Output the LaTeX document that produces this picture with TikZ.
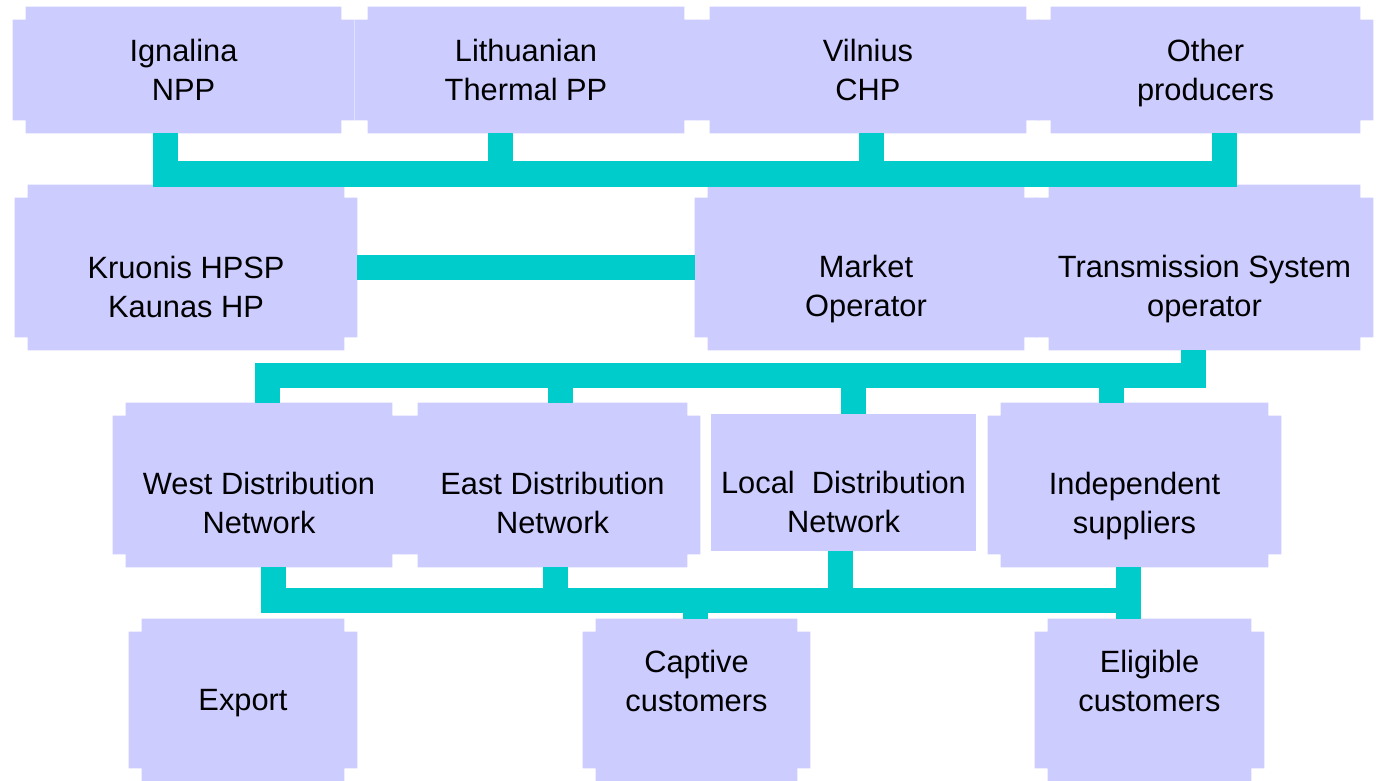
\documentclass[tikz,border=0pt]{standalone}
\usepackage{fontspec}
\setmainfont{Liberation Sans}
\usepackage{tikz}
\usetikzlibrary{backgrounds}

\definecolor{boxblue}{HTML}{CCCCFF}
\definecolor{busteal}{HTML}{00CCCC}
\newcommand{\boxfont}{\fontsize{15.4pt}{19.5pt}\selectfont}

\begin{document}
\begin{tikzpicture}[x=0.5pt, y=-0.5pt,
  box/.style 2 args={minimum width=#1, minimum height=#2, inner sep=0pt},
  txt/.style={font=\boxfont, align=center, inner sep=0pt},
  bus/.style={draw=busteal, line width=12.5pt}]
\useasboundingbox (0,0) rectangle (1376,781);

% Producers
\node[box={170.5pt}{63pt}, label={[txt]center:{Ignalina\\NPP}}] (ign) at (183.5,70) {};
\node[box={171pt}{63pt}, label={[txt]center:{Lithuanian\\Thermal PP}}] (lit) at (526,70) {};
\node[box={171pt}{63pt}, label={[txt]center:{Vilnius\\CHP}}] (vil) at (868,70) {};
\node[box={167.5pt}{63pt}, label={[txt,yshift=-1.5pt]center:{Other\\producers}}] (oth) at (1205.5,70) {};

% Hydro, market and transmission
\node[box={171pt}{82.5pt}, label={[txt,yshift=-9.5pt]center:{Kruonis HPSP\\Kaunas HP}}] (kru) at (186,267.5) {};
\node[box={171pt}{82.5pt}, label={[txt,yshift=-11pt]center:{Market\\Operator}}] (mo) at (866,267.5) {};
\node[box={168.5pt}{82.5pt}, label={[txt,yshift=-11pt]center:{Transmission System\\operator}}] (tso) at (1204.5,267.5) {};

% Distribution and supply
\node[box={146pt}{82pt}, label={[txt,yshift=-9pt]center:{West Distribution\\Network}}] (wdn) at (259,485) {};
\node[box={147.5pt}{82pt}, label={[txt,yshift=-9pt]center:{East Distribution\\Network}}] (edn) at (552.5,485) {};
\node[box={132.5pt}{68.5pt}, fill=boxblue, label={[txt,yshift=-9.5pt]center:{Local\ \ Distribution\\Network}}] (ldn) at (843.5,482.5) {};
\node[box={146.5pt}{82pt}, label={[txt,yshift=-10.5pt]center:{Independent\\suppliers}}] (isup) at (1134.5,485) {};

% Consumers
\node[box={114pt}{81pt}, label={[txt,yshift=-1.5pt]center:{Export}}] (exp) at (243,700) {};
\node[box={113.5pt}{81pt}, label={[txt,yshift=9.5pt]center:{Captive\\customers}}] (cap) at (696.5,700) {};
\node[box={114.5pt}{81pt}, label={[txt,yshift=9.5pt]center:{Eligible\\customers}}] (eli) at (1149.5,700) {};

% Notched box fills
\begin{scope}[on background layer]
\foreach \n in {ign,lit,vil,oth,kru,mo,tso,wdn,edn,isup,exp,cap,eli}
  \fill[boxblue] ([xshift=6.5pt]\n.north west) rectangle ([xshift=-6.5pt]\n.south east)
                 ([yshift=-6.5pt]\n.north west) rectangle ([yshift=6.5pt]\n.south east);
\end{scope}

% Bus junctions
\coordinate (p1) at (165,174);
\coordinate (p2) at (500,174);
\coordinate (p3) at (871,174);
\coordinate (p4) at (1224,174);
\coordinate (q0) at (1193,375);
\coordinate (q1) at (267,375);
\coordinate (q2) at (560,375);
\coordinate (q3) at (853,375);
\coordinate (q4) at (1111,375);
\coordinate (r1) at (273,600);
\coordinate (r2) at (555,600);
\coordinate (r3) at (840,600);
\coordinate (r4) at (1128,600);
\coordinate (r5) at (695,600);

% Producer bus
\draw[bus] (ign.south -| p1) -- (p1) -- (p4) -- (oth.south -| p4);
\draw[bus] (p2) -- (p2 |- lit.south);
\draw[bus] (p3) -- (p3 |- vil.south);

% Hydro to market
\draw[bus] (kru.east) -- (mo.west);

% Transmission bus
\draw[bus] (tso.south -| q0) -- (q0) -- (q1) -- (q1 |- wdn.north);
\draw[bus] (q2) -- (q2 |- edn.north);
\draw[bus] (q3) -- (q3 |- ldn.north);
\draw[bus] (q4) -- (q4 |- isup.north);

% Customer bus
\draw[bus] (wdn.south -| r1) -- (r1) -- (r4);
\draw[bus] (isup.south -| r4) -- (eli.north -| r4);
\draw[bus] (r2 |- edn.south) -- (r2);
\draw[bus] (r3 |- ldn.south) -- (r3);
\draw[bus] (r5) -- (r5 |- cap.north);
\end{tikzpicture}
\end{document}
